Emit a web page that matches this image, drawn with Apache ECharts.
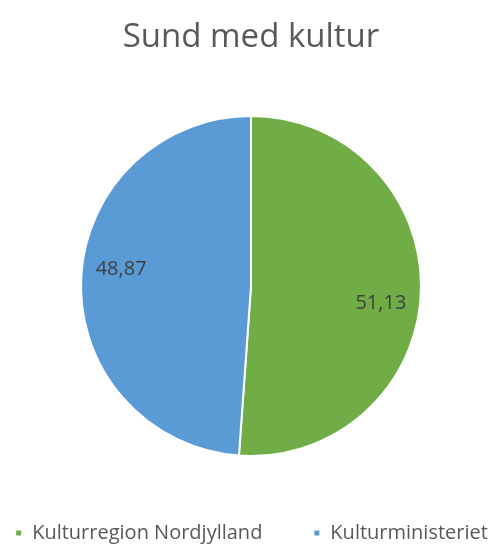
<!DOCTYPE html>
<html>
<head>
<meta charset="utf-8">
<script src="https://cdn.jsdelivr.net/npm/echarts@6/dist/echarts.min.js"></script>
<style>html,body{margin:0;padding:0;background:#fff;}#c{width:502px;height:549px;}</style>
</head>
<body>
<div id="c"></div>
<script>
var titleText = 'Sund med kultur';
var categories = ['Kulturregion Nordjylland', 'Kulturministeriet'];
var values = [51.13, 48.87];
var colors = ['#70AD47', '#5B9BD5'];

var chart = echarts.init(document.getElementById('c'), null, {renderer: 'canvas'});
var pieData = categories.map(function (c, i) { return {name: c, value: values[i], itemStyle: {color: colors[i]}}; });
var fontFam = '"Open Sans", sans-serif';
chart.setOption({
  animation: false,
  backgroundColor: '#ffffff',
  title: {
    text: titleText, left: 'center', top: 16,
    textStyle: {fontFamily: fontFam, fontSize: 33, fontWeight: 'normal', color: '#595959'}
  },
  legend: {
    top: 518, left: 'center',
    itemWidth: 7, itemHeight: 7, itemGap: 50, icon: 'rect',
    textStyle: {fontFamily: fontFam, fontSize: 20, color: '#595959', padding: [0, 0, 0, 5]},
    data: categories
  },
  series: [
    {
      type: 'pie', center: [251, 286], radius: [0, 170], startAngle: 90, clockwise: true,
      itemStyle: {borderColor: '#ffffff', borderWidth: 2},
      label: {show: false}, labelLine: {show: false},
      data: pieData
    },
    {
      type: 'pie', center: [251, 286], radius: [86, 170], startAngle: 84.5, clockwise: true, silent: true,
      itemStyle: {color: 'rgba(0,0,0,0)', borderWidth: 0},
      label: {
        show: true, position: 'inside', fontFamily: fontFam, fontSize: 20, color: '#404040',
        formatter: function (p) { return String(p.value).replace('.', ','); }
      },
      labelLine: {show: false},
      data: categories.map(function (c, i) { return {name: c, value: values[i]}; })
    }
  ]
});
</script>
</body>
</html>
